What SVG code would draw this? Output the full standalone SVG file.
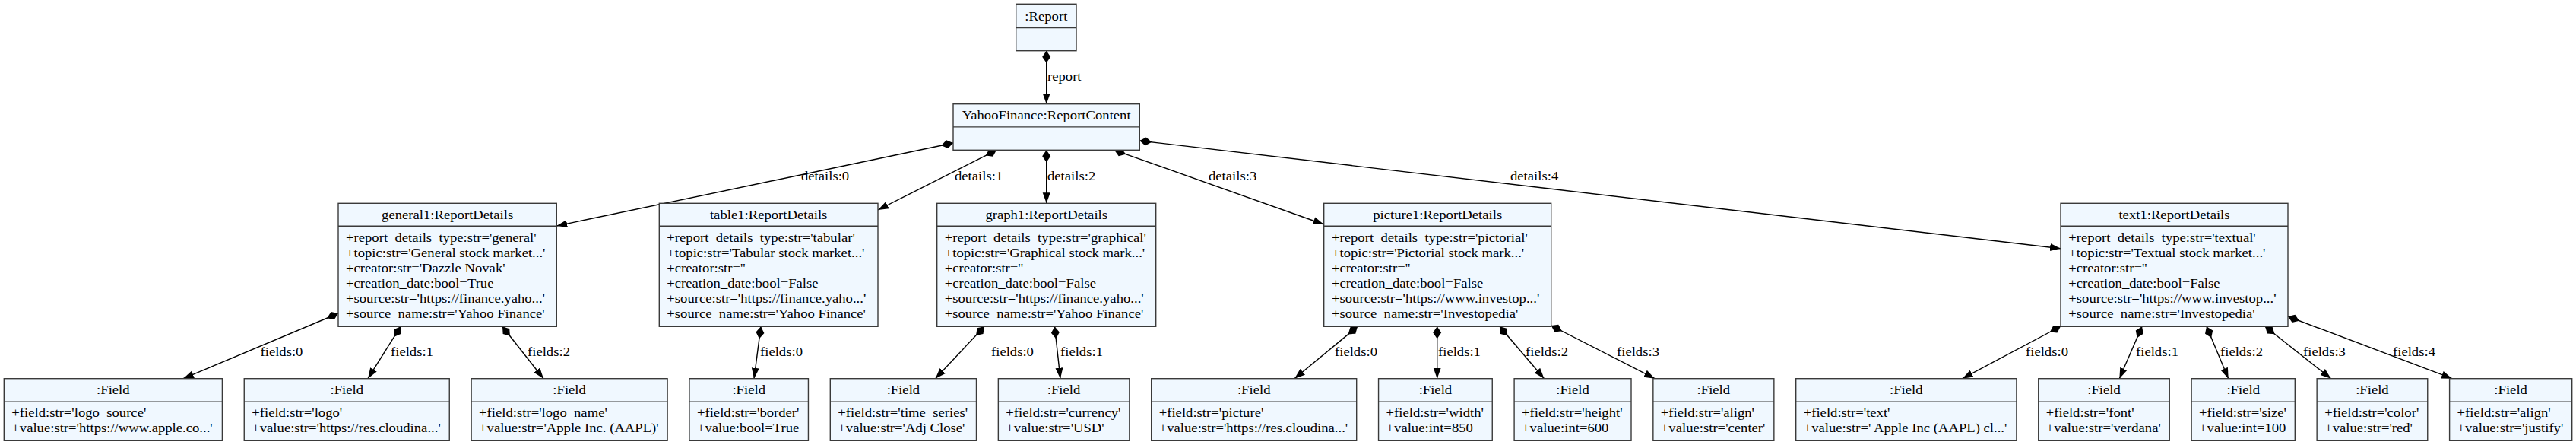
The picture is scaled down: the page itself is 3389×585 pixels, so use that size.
<svg xmlns="http://www.w3.org/2000/svg" width="3389" height="585" viewBox="0 0 3389 585">
<style>
.box{fill:#f0f8ff;stroke:#3a3a3a;stroke-width:1.4}
.sep{stroke:#3a3a3a;stroke-width:1.4}
text{font-family:"Liberation Serif","Times New Roman",serif;font-size:18.67px;fill:#000}
.h{text-anchor:middle}
.e{stroke:#000;stroke-width:1.4;fill:none;marker-start:url(#dia);marker-end:url(#arr)}
</style>
<defs>
<marker id="dia" markerUnits="userSpaceOnUse" markerWidth="18" markerHeight="14" refX="0" refY="7" orient="auto" viewBox="0 0 18 14"><path d="M0,7 L8,1.5 L16,7 L8,12.5 Z" fill="#000"/></marker>
<marker id="arr" markerUnits="userSpaceOnUse" markerWidth="16" markerHeight="12" refX="14" refY="6" orient="auto" viewBox="0 0 16 12"><path d="M0,1 L14,6 L0,11 Z" fill="#000"/></marker>
</defs>
<rect width="3389" height="585" fill="#fff"/>

<g id="edges">
<line class="e" x1="1376.7" y1="66.7" x2="1376.7" y2="136.7"/>
<line class="e" x1="1254" y1="188" x2="732.3" y2="297"/>
<line class="e" x1="1311" y1="197.3" x2="1155" y2="276"/>
<line class="e" x1="1376.7" y1="197.3" x2="1376.7" y2="267.3"/>
<line class="e" x1="1466" y1="197.3" x2="1741.7" y2="295"/>
<line class="e" x1="1499.3" y1="185" x2="2711" y2="326.7"/>
<line class="e" x1="445" y1="412" x2="241" y2="497.7"/>
<line class="e" x1="527" y1="429.3" x2="484" y2="497.7"/>
<line class="e" x1="661" y1="429.3" x2="715" y2="497.7"/>
<line class="e" x1="1001" y1="429.3" x2="992" y2="497.7"/>
<line class="e" x1="1295" y1="429.3" x2="1230.6" y2="497.7"/>
<line class="e" x1="1387.5" y1="429.3" x2="1395" y2="497.7"/>
<line class="e" x1="1786" y1="429.3" x2="1703" y2="497.7"/>
<line class="e" x1="1890.7" y1="429.3" x2="1890.7" y2="497.7"/>
<line class="e" x1="1973" y1="429.3" x2="2031.5" y2="497.7"/>
<line class="e" x1="2040.7" y1="428" x2="2177" y2="497.7"/>
<line class="e" x1="2711" y1="429" x2="2581.7" y2="497.7"/>
<line class="e" x1="2818" y1="429.3" x2="2788.3" y2="497.7"/>
<line class="e" x1="2903" y1="429.3" x2="2931.7" y2="497.7"/>
<line class="e" x1="2980" y1="429.3" x2="3066.7" y2="497.7"/>
<line class="e" x1="3010" y1="416" x2="3226" y2="497.7"/>
<g transform="scale(1,0.9)">
<text x="1378" y="117.78">report</text>
<text x="1054" y="263.33">details:0</text>
<text x="1256" y="263.33">details:1</text>
<text x="1378" y="263.33">details:2</text>
<text x="1590" y="263.33">details:3</text>
<text x="1987" y="263.33">details:4</text>
<text x="342.5" y="520">fields:0</text>
<text x="514" y="520">fields:1</text>
<text x="694" y="520">fields:2</text>
<text x="1000" y="520">fields:0</text>
<text x="1304" y="520">fields:0</text>
<text x="1395" y="520">fields:1</text>
<text x="1756" y="520">fields:0</text>
<text x="1892" y="520">fields:1</text>
<text x="2007" y="520">fields:2</text>
<text x="2127" y="520">fields:3</text>
<text x="2665" y="520">fields:0</text>
<text x="2810" y="520">fields:1</text>
<text x="2921" y="520">fields:2</text>
<text x="3030" y="520">fields:3</text>
<text x="3148" y="520">fields:4</text>
</g>
</g>

<g id="report">
<rect class="box" x="1336.7" y="5.3" width="79.3" height="61.4"/>
<line class="sep" x1="1336.7" y1="36.5" x2="1416" y2="36.5"/>
<g transform="scale(1,0.9)"><text class="h" x="1376.35" y="29.67">:Report</text></g>
</g>

<g id="yahoofinance">
<rect class="box" x="1254" y="136.7" width="245.3" height="60.6"/>
<line class="sep" x1="1254" y1="166.9" x2="1499.3" y2="166.9"/>
<g transform="scale(1,0.9)"><text class="h" x="1376.65" y="174.78">YahooFinance:ReportContent</text></g>
</g>

<g id="general1">
<rect class="box" x="445" y="267.3" width="287.3" height="162"/>
<line class="sep" x1="445" y1="297.3" x2="732.3" y2="297.3"/>
<g transform="scale(1,0.9)">
<text class="h" x="588.65" y="320.33">general1:ReportDetails</text>
<text x="455" y="353.33">+report_details_type:str='general'</text>
<text x="455" y="375.67">+topic:str='General stock market...'</text>
<text x="455" y="398">+creator:str='Dazzle Novak'</text>
<text x="455" y="420.33">+creation_date:bool=True</text>
<text x="455" y="442.67">+source:str='https://finance.yaho...'</text>
<text x="455" y="465">+source_name:str='Yahoo Finance'</text>
</g>
</g>

<g id="table1">
<rect class="box" x="867.3" y="267.3" width="287.7" height="162"/>
<line class="sep" x1="867.3" y1="297.3" x2="1155" y2="297.3"/>
<g transform="scale(1,0.9)">
<text class="h" x="1011.15" y="320.33">table1:ReportDetails</text>
<text x="877.3" y="353.33">+report_details_type:str='tabular'</text>
<text x="877.3" y="375.67">+topic:str='Tabular stock market...'</text>
<text x="877.3" y="398">+creator:str=''</text>
<text x="877.3" y="420.33">+creation_date:bool=False</text>
<text x="877.3" y="442.67">+source:str='https://finance.yaho...'</text>
<text x="877.3" y="465">+source_name:str='Yahoo Finance'</text>
</g>
</g>

<g id="graph1">
<rect class="box" x="1232.7" y="267.3" width="288" height="162"/>
<line class="sep" x1="1232.7" y1="297.3" x2="1520.7" y2="297.3"/>
<g transform="scale(1,0.9)">
<text class="h" x="1376.7" y="320.33">graph1:ReportDetails</text>
<text x="1242.7" y="353.33">+report_details_type:str='graphical'</text>
<text x="1242.7" y="375.67">+topic:str='Graphical stock mark...'</text>
<text x="1242.7" y="398">+creator:str=''</text>
<text x="1242.7" y="420.33">+creation_date:bool=False</text>
<text x="1242.7" y="442.67">+source:str='https://finance.yaho...'</text>
<text x="1242.7" y="465">+source_name:str='Yahoo Finance'</text>
</g>
</g>

<g id="picture1">
<rect class="box" x="1741.7" y="267.3" width="299" height="162"/>
<line class="sep" x1="1741.7" y1="297.3" x2="2040.7" y2="297.3"/>
<g transform="scale(1,0.9)">
<text class="h" x="1891.2" y="320.33">picture1:ReportDetails</text>
<text x="1752" y="353.33">+report_details_type:str='pictorial'</text>
<text x="1752" y="375.67">+topic:str='Pictorial stock mark...'</text>
<text x="1752" y="398">+creator:str=''</text>
<text x="1752" y="420.33">+creation_date:bool=False</text>
<text x="1752" y="442.67">+source:str='https://www.investop...'</text>
<text x="1752" y="465">+source_name:str='Investopedia'</text>
</g>
</g>

<g id="text1">
<rect class="box" x="2711" y="267.3" width="299" height="162"/>
<line class="sep" x1="2711" y1="297.3" x2="3010" y2="297.3"/>
<g transform="scale(1,0.9)">
<text class="h" x="2860.5" y="320.33">text1:ReportDetails</text>
<text x="2721.3" y="353.33">+report_details_type:str='textual'</text>
<text x="2721.3" y="375.67">+topic:str='Textual stock market...'</text>
<text x="2721.3" y="398">+creator:str=''</text>
<text x="2721.3" y="420.33">+creation_date:bool=False</text>
<text x="2721.3" y="442.67">+source:str='https://www.investop...'</text>
<text x="2721.3" y="465">+source_name:str='Investopedia'</text>
</g>
</g>

<g id="field_logo_source">
<rect class="box" x="5.3" y="497.7" width="287.1" height="81.6"/>
<line class="sep" x1="5.3" y1="528.3" x2="292.4" y2="528.3"/>
<g transform="scale(1,0.9)">
<text class="h" x="148.85" y="576.11">:Field</text>
<text x="15.3" y="608.89">+field:str='logo_source'</text>
<text x="15.3" y="631.11">+value:str='https://www.apple.co...'</text>
</g>
</g>

<g id="field_logo">
<rect class="box" x="321.25" y="497.7" width="270" height="81.6"/>
<line class="sep" x1="321.25" y1="528.3" x2="591.25" y2="528.3"/>
<g transform="scale(1,0.9)">
<text class="h" x="456.25" y="576.11">:Field</text>
<text x="331.25" y="608.89">+field:str='logo'</text>
<text x="331.25" y="631.11">+value:str='https://res.cloudina...'</text>
</g>
</g>

<g id="field_logo_name">
<rect class="box" x="620.1" y="497.7" width="258" height="81.6"/>
<line class="sep" x1="620.1" y1="528.3" x2="878.1" y2="528.3"/>
<g transform="scale(1,0.9)">
<text class="h" x="749.1" y="576.11">:Field</text>
<text x="630.1" y="608.89">+field:str='logo_name'</text>
<text x="630.1" y="631.11">+value:str='Apple Inc. (AAPL)'</text>
</g>
</g>

<g id="field_border">
<rect class="box" x="906.95" y="497.7" width="156.5" height="81.6"/>
<line class="sep" x1="906.95" y1="528.3" x2="1063.45" y2="528.3"/>
<g transform="scale(1,0.9)">
<text class="h" x="985.2" y="576.11">:Field</text>
<text x="916.95" y="608.89">+field:str='border'</text>
<text x="916.95" y="631.11">+value:bool=True</text>
</g>
</g>

<g id="field_time_series">
<rect class="box" x="1092.3" y="497.7" width="192.2" height="81.6"/>
<line class="sep" x1="1092.3" y1="528.3" x2="1284.5" y2="528.3"/>
<g transform="scale(1,0.9)">
<text class="h" x="1188.4" y="576.11">:Field</text>
<text x="1102.3" y="608.89">+field:str='time_series'</text>
<text x="1102.3" y="631.11">+value:str='Adj Close'</text>
</g>
</g>

<g id="field_currency">
<rect class="box" x="1313.35" y="497.7" width="172.5" height="81.6"/>
<line class="sep" x1="1313.35" y1="528.3" x2="1485.85" y2="528.3"/>
<g transform="scale(1,0.9)">
<text class="h" x="1399.6" y="576.11">:Field</text>
<text x="1323.35" y="608.89">+field:str='currency'</text>
<text x="1323.35" y="631.11">+value:str='USD'</text>
</g>
</g>

<g id="field_picture">
<rect class="box" x="1514.7" y="497.7" width="270" height="81.6"/>
<line class="sep" x1="1514.7" y1="528.3" x2="1784.7" y2="528.3"/>
<g transform="scale(1,0.9)">
<text class="h" x="1649.7" y="576.11">:Field</text>
<text x="1524.7" y="608.89">+field:str='picture'</text>
<text x="1524.7" y="631.11">+value:str='https://res.cloudina...'</text>
</g>
</g>

<g id="field_width">
<rect class="box" x="1813.55" y="497.7" width="149.7" height="81.6"/>
<line class="sep" x1="1813.55" y1="528.3" x2="1963.25" y2="528.3"/>
<g transform="scale(1,0.9)">
<text class="h" x="1888.4" y="576.11">:Field</text>
<text x="1823.55" y="608.89">+field:str='width'</text>
<text x="1823.55" y="631.11">+value:int=850</text>
</g>
</g>

<g id="field_height">
<rect class="box" x="1992.1" y="497.7" width="153.9" height="81.6"/>
<line class="sep" x1="1992.1" y1="528.3" x2="2146" y2="528.3"/>
<g transform="scale(1,0.9)">
<text class="h" x="2069.05" y="576.11">:Field</text>
<text x="2002.1" y="608.89">+field:str='height'</text>
<text x="2002.1" y="631.11">+value:int=600</text>
</g>
</g>

<g id="field_align_center">
<rect class="box" x="2174.85" y="497.7" width="159" height="81.6"/>
<line class="sep" x1="2174.85" y1="528.3" x2="2333.85" y2="528.3"/>
<g transform="scale(1,0.9)">
<text class="h" x="2254.35" y="576.11">:Field</text>
<text x="2184.85" y="608.89">+field:str='align'</text>
<text x="2184.85" y="631.11">+value:str='center'</text>
</g>
</g>

<g id="field_text">
<rect class="box" x="2362.7" y="497.7" width="290.2" height="81.6"/>
<line class="sep" x1="2362.7" y1="528.3" x2="2652.9" y2="528.3"/>
<g transform="scale(1,0.9)">
<text class="h" x="2507.8" y="576.11">:Field</text>
<text x="2372.7" y="608.89">+field:str='text'</text>
<text x="2372.7" y="631.11">+value:str=' Apple Inc (AAPL) cl...'</text>
</g>
</g>

<g id="field_font">
<rect class="box" x="2681.75" y="497.7" width="172.5" height="81.6"/>
<line class="sep" x1="2681.75" y1="528.3" x2="2854.25" y2="528.3"/>
<g transform="scale(1,0.9)">
<text class="h" x="2768" y="576.11">:Field</text>
<text x="2691.75" y="608.89">+field:str='font'</text>
<text x="2691.75" y="631.11">+value:str='verdana'</text>
</g>
</g>

<g id="field_size">
<rect class="box" x="2883.1" y="497.7" width="136.2" height="81.6"/>
<line class="sep" x1="2883.1" y1="528.3" x2="3019.3" y2="528.3"/>
<g transform="scale(1,0.9)">
<text class="h" x="2951.2" y="576.11">:Field</text>
<text x="2893.1" y="608.89">+field:str='size'</text>
<text x="2893.1" y="631.11">+value:int=100</text>
</g>
</g>

<g id="field_color">
<rect class="box" x="3048.15" y="497.7" width="145.6" height="81.6"/>
<line class="sep" x1="3048.15" y1="528.3" x2="3193.75" y2="528.3"/>
<g transform="scale(1,0.9)">
<text class="h" x="3120.95" y="576.11">:Field</text>
<text x="3058.15" y="608.89">+field:str='color'</text>
<text x="3058.15" y="631.11">+value:str='red'</text>
</g>
</g>

<g id="field_align_justify">
<rect class="box" x="3222.6" y="497.7" width="161.1" height="81.6"/>
<line class="sep" x1="3222.6" y1="528.3" x2="3383.7" y2="528.3"/>
<g transform="scale(1,0.9)">
<text class="h" x="3303.15" y="576.11">:Field</text>
<text x="3232.6" y="608.89">+field:str='align'</text>
<text x="3232.6" y="631.11">+value:str='justify'</text>
</g>
</g>
</svg>
